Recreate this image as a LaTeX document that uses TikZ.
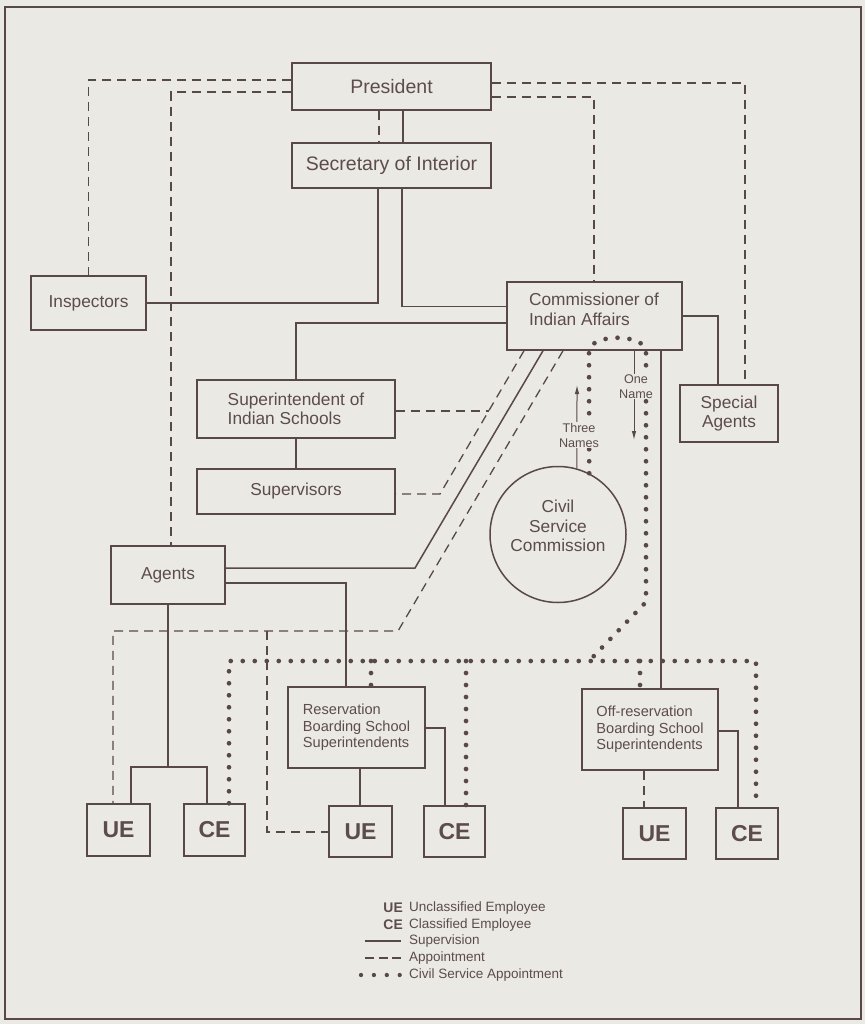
\documentclass[tikz,border=0pt]{standalone}
\usepackage{fontspec}
\setmainfont{Liberation Sans}
\usetikzlibrary{arrows.meta,calc}
\definecolor{ink}{RGB}{88,72,72}
\definecolor{txtc}{RGB}{92,76,74}
\definecolor{paper}{RGB}{235,233,227}
\newcommand\fBig{\fontsize{19.5}{22}\selectfont}
\newcommand\fMid{\fontsize{17.3}{19.5}\selectfont}
\newcommand\fSml{\fontsize{14.6}{16.5}\selectfont}
\newcommand\fTiny{\fontsize{12.6}{15}\selectfont}
\newcommand\fUE{\fontsize{23}{26}\selectfont\bfseries}
\newcommand\fLeg{\fontsize{13.5}{16.5}\selectfont}
\newcommand\fLegB{\fontsize{13.9}{16.5}\selectfont\bfseries}
\begin{document}
\begin{tikzpicture}[x=1pt,y=-1pt,
  box/.style={draw=ink, line width=1.5pt, fill=paper, text=txtc, inner sep=2pt, rectangle},
  plain/.style={text=txtc, inner sep=0pt},
  sup/.style={draw=ink, line width=1.5pt},
  appt/.style={draw=ink, line width=1.3pt, dash pattern=on 9pt off 6pt},
  civ/.style={draw=ink, line width=4.7pt, line cap=round, dash pattern=on 0pt off 12pt},
  namearrow/.style={draw=ink, line width=1pt, -{Latex[length=9pt,width=4.5pt]}},
  tag/.style={text=txtc, fill=paper, inner sep=1pt, align=center, font=\fTiny}]
\useasboundingbox (0,0) rectangle (865,1024);
\fill[paper] (0,0) rectangle (865,1024);
\draw[ink, line width=2.5pt] (5,7) rectangle (861,1019);

% boxes
\node[box, font=\fBig, minimum width=199pt, minimum height=47pt] (pres) at (391.5,86.5) {President};
\node[box, font=\fBig, minimum width=199pt, minimum height=45pt] (sec) at (391.5,165.5) {Secretary of Interior};
\node[box, font=\fMid, minimum width=115pt, minimum height=54pt] (insp) at (88.5,303) {Inspectors};
\node[box, minimum width=175pt, minimum height=68pt] (comm) at (594.5,316) {};
\node[plain, font=\fMid, align=left] (commtext) at (594,309.5) {Commissioner of\\Indian Affairs};
\node[box, font=\fMid, align=left, minimum width=198pt, minimum height=58pt] (supt) at (296,409) {Superintendent of\\Indian Schools};
\node[box, font=\fMid, minimum width=198pt, minimum height=45pt] (supv) at (296,491.5) {Supervisors};
\node[box, font=\fMid, align=center, minimum width=98pt, minimum height=57pt] (spec) at (729,413.5) {Special\\Agents};
\node[box, font=\fMid, minimum width=114pt, minimum height=58pt] (agents) at (168,575) {Agents};
\node[box, circle, minimum size=136pt] (csc) at (558,534.5) {};
\node[plain, font=\fMid, align=center] (csctext) at (558,526) {Civil\\Service\\Commission};
\node[box, font=\fSml, align=left, minimum width=137pt, minimum height=81pt] (res) at (356.5,727.5) {Reservation\\Boarding School\\Superintendents};
\node[box, font=\fSml, align=left, minimum width=136pt, minimum height=81pt] (off) at (650,729.5) {Off-reservation\\Boarding School\\Superintendents};
\node[box, font=\fUE, minimum width=63pt, minimum height=52pt] (ue1) at (118.5,830) {UE};
\node[box, font=\fUE, minimum width=61pt, minimum height=52pt] (ce1) at (214.5,830) {CE};
\node[box, font=\fUE, minimum width=63pt, minimum height=51pt] (ue2) at (360.5,831.5) {UE};
\node[box, font=\fUE, minimum width=61pt, minimum height=51pt] (ce2) at (454.5,831.5) {CE};
\node[box, font=\fUE, minimum width=63pt, minimum height=51pt] (ue3) at (654.5,833.5) {UE};
\node[box, font=\fUE, minimum width=62pt, minimum height=51pt] (ce3) at (747,833.5) {CE};

% supervision
\draw[sup] (pres.south -| 403,0) -- (sec.north -| 403,0);
\draw[sup] (sec.south -| 378,0) |- (insp.east);
\draw[sup] (sec.south -| 402,0) |- (comm.west |- 0,306.5);
\draw[sup] (comm.west |- 0,323) -| (supt.north);
\draw[sup] (comm.east |- 0,316) -| (spec.north -| 718,0);
\draw[sup] (supt.south) -- (supv.north);
\coordinate (k1) at (415,568);
\draw[sup] (comm.south -| 543,0) -- (k1) -- (agents.east |- k1);
\draw[sup] (agents.east |- 0,583) -| (res.north -| 346,0);
\coordinate (j1) at (131,767);
\coordinate (j2) at (207,767);
\draw[sup] (agents.south) -- (agents.south |- j1);
\draw[sup] (ue1.north -| j1) -- (j1) -- (j2) -- (ce1.north -| j2);
\draw[sup] (res.south -| 360,0) -- (ue2.north -| 360,0);
\draw[sup] (res.east |- 0,728) -| (ce2.north -| 445,0);
\draw[sup] (comm.south -| 661,0) -- (off.north -| 661,0);
\draw[sup] (off.east |- 0,731) -| (ce3.north -| 738,0);

% appointment
\draw[appt] (pres.west |- 0,80) -| (insp.north);
\draw[appt] (pres.west |- 0,92) -| (agents.north -| 171,0);
\draw[appt] (pres.east |- 0,83) -| (spec.north -| 745,0);
\draw[appt] (pres.east |- 0,97) -| (comm.north -| 594,0);
\draw[appt] (pres.south -| 379,0) -- (sec.north -| 379,0);
\coordinate (d1) at (440,494);
\coordinate (d2) at (489,411);
\draw[appt] (comm.south -| 524,0) -- (d1) -- (supv.east |- d1);
\draw[appt] (supt.east |- d2) -- (d2);
\coordinate (d3) at (398,631);
\coordinate (d4) at (113,631);
\coordinate (d5) at (267,631);
\coordinate (d6) at (267,832);
\draw[appt] (comm.south -| 563,0) -- (d3) -- (d4) -- (ue1.north -| d4);
\draw[appt] (d5) -- (d6) -- (ue2.west |- d6);
\draw[appt] (off.south -| 644,0) -- (ue3.north -| 644,0);

% civil service appointment
\coordinate (p1) at (589,352);
\coordinate (p2) at (646,352);
\coordinate (p3) at (646,602);
\coordinate (p4) at (590,660);
\draw[civ] (csc.63) -- (p1) .. controls (589,333) and (646,333) .. (p2) -- (p3) -- (p4);
\coordinate (h1) at (229,661);
\coordinate (h2) at (756,661);
\draw[civ] (ce1.north -| h1) -- (h1) -- (h2) -- (ce3.north -| h2);
\coordinate (b1) at (371,661);
\coordinate (b2) at (466,661);
\coordinate (b3) at (640,661);
\draw[civ] (b1) -- (res.north -| b1);
\draw[civ] (b2) -- (ce2.north -| b2);
\draw[civ] (b3) -- (off.north -| b3);

% names arrows
\coordinate (t1) at (577,385);
\coordinate (t2) at (634,440);
\draw[namearrow] (csc.74) -- (t1);
\draw[namearrow] (comm.south -| t2) -- (t2);
\node[tag] (three) at (579,435) {Three\\Names};
\node[tag] (one) at (636,386.5) {One\\Name};

% legend
\node[plain, font=\fLegB, anchor=east] (lue) at (403,908) {UE};
\node[plain, font=\fLeg, anchor=west] (lue2) at (409,908) {Unclassified Employee};
\node[plain, font=\fLegB, anchor=east] (lce) at (403,925) {CE};
\node[plain, font=\fLeg, anchor=west] (lce2) at (409,925) {Classified Employee};
\coordinate (la) at (365,941);
\coordinate (lb) at (401,941);
\draw[sup] (la) -- (lb);
\node[plain, font=\fLeg, anchor=west] (lsup) at (409,941) {Supervision};
\coordinate (lc) at (365,958);
\coordinate (ld) at (401,958);
\draw[appt, dash pattern=on 9pt off 4.5pt] (lc) -- (ld);
\node[plain, font=\fLeg, anchor=west] (lapp) at (409,958) {Appointment};
\coordinate (le) at (361,975);
\coordinate (lf) at (400.5,975);
\draw[civ, line width=4.3pt, dash pattern=on 0pt off 12.9pt] (le) -- (lf);
\node[plain, font=\fLeg, anchor=west] (lciv) at (409,975) {Civil Service Appointment};
\end{tikzpicture}
\end{document}
